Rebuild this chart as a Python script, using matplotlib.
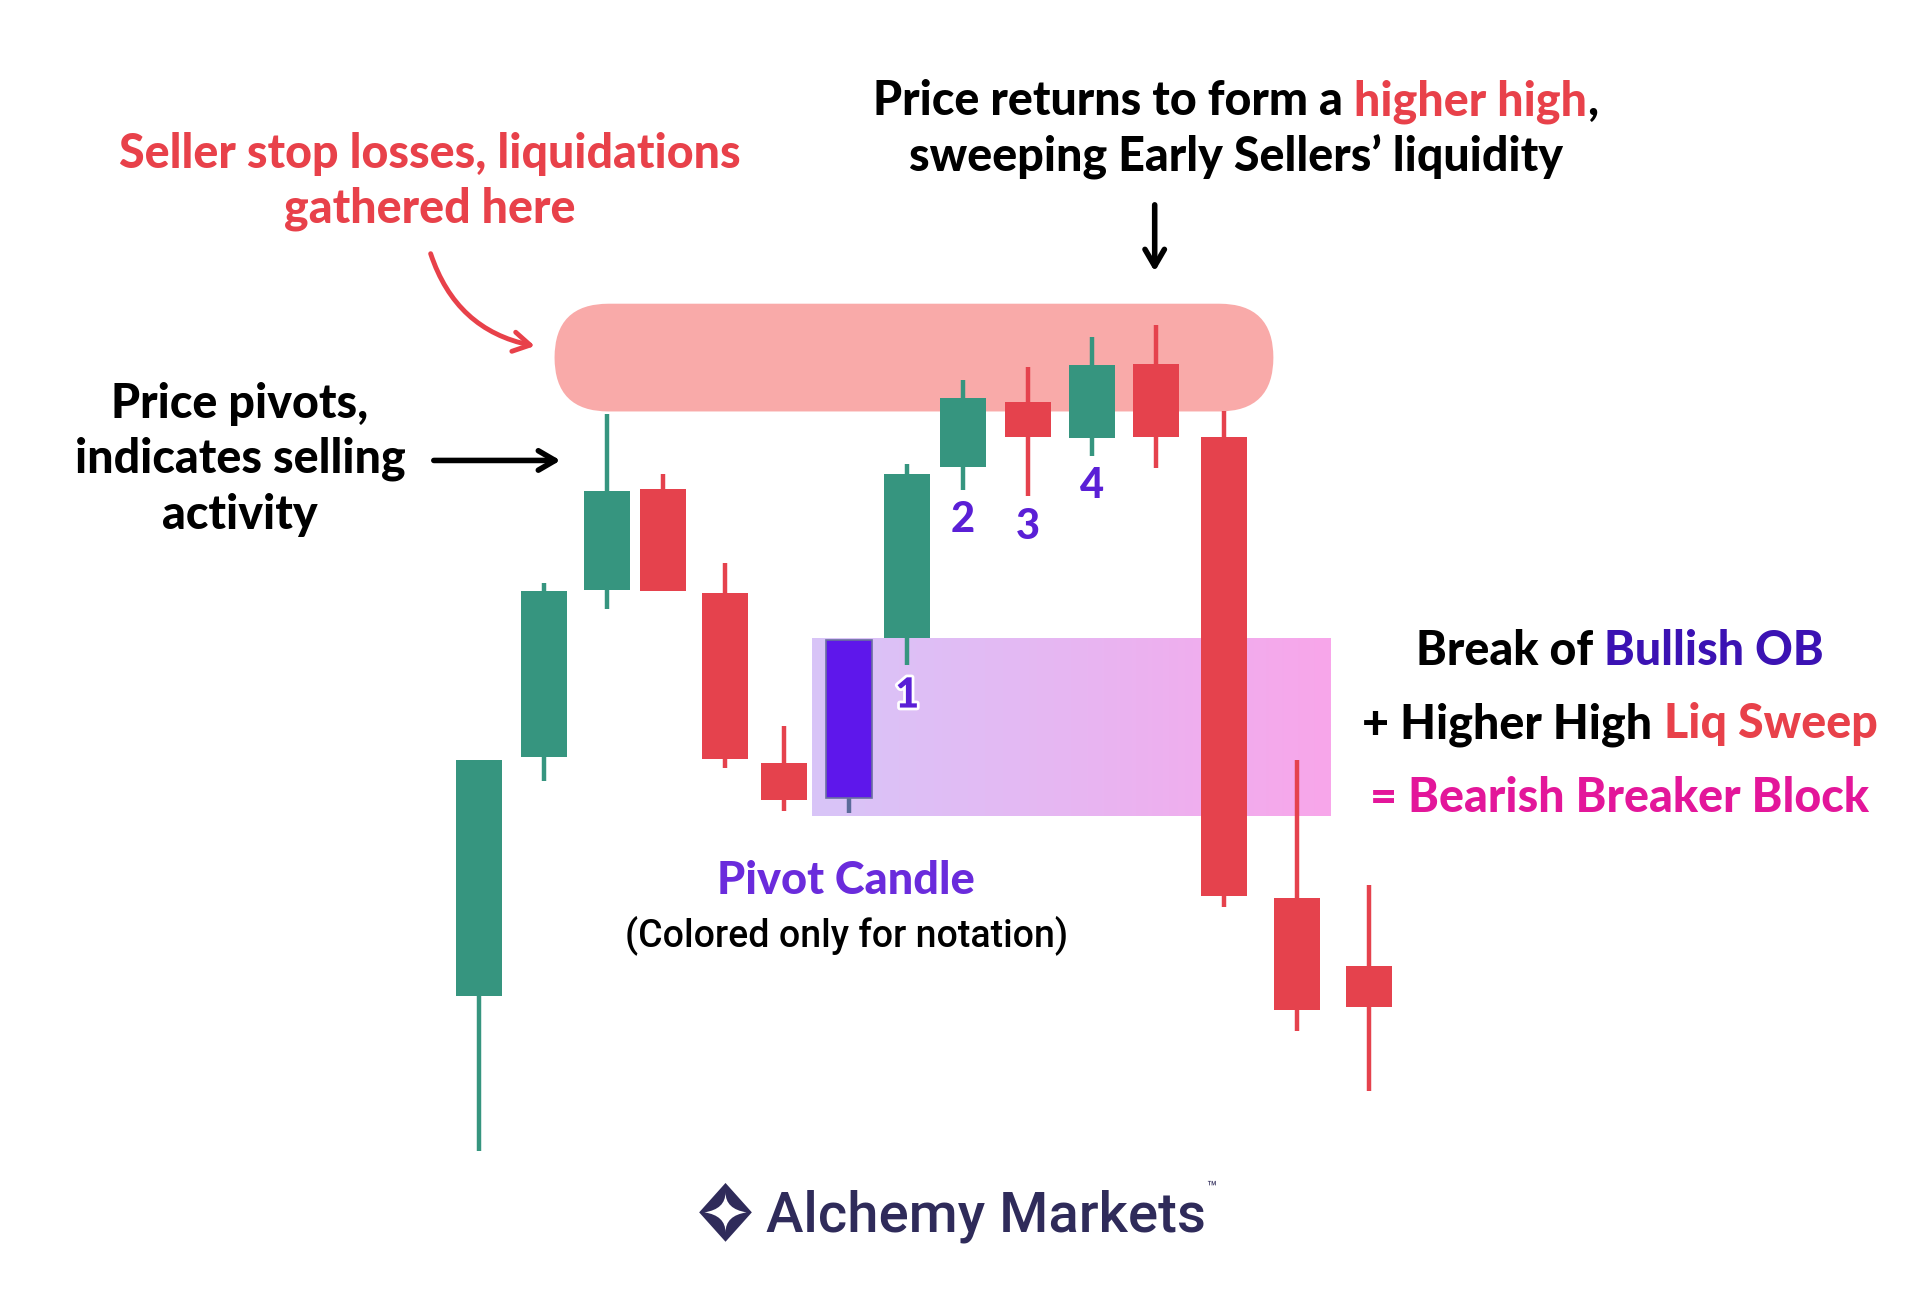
import numpy as np
import matplotlib
matplotlib.use('Agg')
import matplotlib.pyplot as plt
from matplotlib.patches import FancyBboxPatch, PathPatch, FancyArrowPatch
from matplotlib.path import Path
from matplotlib.colors import LinearSegmentedColormap
import matplotlib.patheffects as pe

# candle data (time slot, OHLC)
t      = [0.00, 1.02, 2.02, 2.90, 3.87, 4.79, 5.81, 6.73, 7.60, 8.62, 9.63, 10.63, 11.71, 12.85, 13.98]
opens  = [26.0, 45.5, 59.1, 67.4, 58.9, 45.0, 42.1, 55.2, 69.2, 74.5, 71.5, 77.6, 71.6, 34.0, 28.4]
highs  = [45.2, 59.7, 73.5, 68.6, 61.3, 48.0, 55.0, 69.4, 76.3, 77.3, 79.8, 80.8, 73.7, 45.2, 35.0]
lows   = [13.3, 43.5, 57.6, 59.0, 44.6, 41.1, 40.9, 53.0, 67.3, 66.8, 70.1, 69.1, 33.2, 23.1, 18.2]
closes = [45.2, 59.0, 67.2, 59.0, 45.3, 42.0, 55.0, 68.6, 74.8, 71.6, 77.5, 71.6, 34.1, 24.8, 25.1]

pivot_idx = 6
num_labels = {7: '1', 8: '2', 9: '3', 10: '4'}

# zones
liq_zone = (1.19, 12.48, 73.7, 82.5)   # t0, t1, low, high
ob_zone  = (5.23, 13.37, 40.7, 55.2)

GREEN = '#36957f'
RED = '#e5424d'
PIVOT = '#5e17eb'
TXT_RED = '#e8414a'
NUM_PURPLE = '#5a1fd6'
HEAD = 'black'   # heaviest weight available

fig = plt.figure(figsize=(19.2, 13.14), dpi=100)
ax = fig.add_axes([0, 0, 1, 1])
ax.set_xlim(-7.519, 22.635)
ax.set_ylim(0, 107.3)
ax.axis('off')

# liquidity pill
x0, x1, y0, y1 = liq_zone
pill = FancyBboxPatch((x0, y0), x1 - x0, y1 - y0,
                      boxstyle='round,pad=0,rounding_size=0.85', mutation_aspect=5.2,
                      facecolor='#f9aaa9', edgecolor='none', zorder=1)
ax.add_patch(pill)

# order block gradient
x0, x1, y0, y1 = ob_zone
cmap = LinearSegmentedColormap.from_list('ob', ['#d8c5f8', '#e7b6f2', '#f8a6ea'])
grad = np.linspace(0, 1, 256).reshape(1, -1)
ax.imshow(grad, cmap=cmap, extent=[x0, x1, y0, y1], aspect='auto', zorder=1)

# candles
for i in range(len(t)):
    o, h, l, c = opens[i], highs[i], lows[i], closes[i]
    if i == pivot_idx:
        col, wcol = PIVOT, '#5b6b9a'
    else:
        col = GREEN if c > o else RED
        wcol = col
    ax.vlines(t[i], l, h, color=wcol, lw=3.2, zorder=2)
    ax.bar(t[i], abs(c - o), bottom=min(o, c), width=0.72, color=col,
           edgecolor='#6a6fa0' if i == pivot_idx else 'none', lw=1.2, zorder=3)

for i, s in num_labels.items():
    txt = ax.text(t[i], lows[i] - 2.5, s, ha='center', va='center', fontsize=30,
                  fontweight=HEAD, family='Lato', color=NUM_PURPLE, zorder=4)
    if s == '1':
        txt.set_path_effects([pe.withStroke(linewidth=4, foreground='white')])

W, H = 1568.0, 1073.0
renderer = fig.canvas.get_renderer()


def fx(x):
    return x / W


def fy(y):
    return 1 - y / H


def rich(xc, yb, parts, size, family='Lato', weight=HEAD):
    items = []
    for s, c in parts:
        items.append(fig.text(0, fy(yb), s, color=c, fontsize=size, fontweight=weight,
                              family=family, ha='left', va='baseline'))
    widths = [it.get_window_extent(renderer).width for it in items]
    left = fx(xc) * fig.bbox.width - sum(widths) / 2
    for it, w in zip(items, widths):
        it.set_x(left / fig.bbox.width)
        left += w


# annotation texts
rich(351, 137, [('Seller stop losses, liquidations', TXT_RED)], 33.5)
rich(351, 182, [('gathered here', TXT_RED)], 33.5)

rich(1009, 94, [('Price returns to form a ', 'black'), ('higher high', TXT_RED), (',', 'black')], 33.5)
rich(1009, 140, [('sweeping Early Sellers\u2019 liquidity', 'black')], 33.5)

rich(196, 341, [('Price pivots,', 'black')], 33.5)
rich(196, 386, [('indicates selling', 'black')], 33.5)
rich(196, 432, [('activity', 'black')], 33.5)

rich(1323, 543, [('Break of ', 'black'), ('Bullish OB', '#3b12b3')], 33.5)
rich(1323, 603, [('+ Higher High ', 'black'), ('Liq Sweep', TXT_RED)], 33.5)
rich(1323, 663, [('= Bearish Breaker Block', '#e3169a')], 33.5)

rich(691, 730, [('Pivot Candle', '#6a2bdc')], 32.5)
rich(691, 773, [('(Colored only for notation)', 'black')], 27, family='Roboto', weight='medium')

# arrows
fig.patches.append(FancyArrowPatch(
    (fx(943), fy(165)), (fx(943), fy(224)), transform=fig.transFigure,
    arrowstyle='->,head_length=12,head_width=7', mutation_scale=1, lw=4, color='black'))
fig.patches.append(FancyArrowPatch(
    (fx(352), fy(376)), (fx(460), fy(376)), transform=fig.transFigure,
    arrowstyle='->,head_length=12,head_width=7', mutation_scale=1, lw=4, color='black'))
fig.patches.append(FancyArrowPatch(
    (fx(351), fy(205)), (fx(439), fy(283)), transform=fig.transFigure,
    connectionstyle='arc3,rad=0.3',
    arrowstyle='->,head_length=12,head_width=7', mutation_scale=1, lw=3.5, color=TXT_RED))

# logo
NAVY = '#2f2b5a'
rich(805, 1006, [('Alchemy Markets', NAVY)], 40.5, family='Roboto', weight='medium')
fig.text(fx(989), fy(970), '\u2122', fontsize=12, color=NAVY, ha='center', va='center', family='Roboto')
lax = fig.add_axes([fx(571), fy(1014), fx(614) - fx(571), fy(966) - fy(1014)])
lax.set_xlim(-1, 1)
lax.set_ylim(-1.1, 1.1)
lax.axis('off')
diamond = Path([(-1, 0), (0, 1.1), (1, 0), (0, -1.1), (-1, 0)])
lax.add_patch(PathPatch(diamond, facecolor=NAVY, edgecolor='none'))
star = Path([(-0.8, 0), (0, 0.12), (0, 0.75), (0, 0.12), (0.8, 0), (0, -0.12), (0, -0.75), (0, -0.12), (-0.8, 0)],
            [Path.MOVETO, Path.CURVE3, Path.CURVE3, Path.CURVE3, Path.CURVE3, Path.CURVE3, Path.CURVE3, Path.CURVE3, Path.CURVE3])
lax.add_patch(PathPatch(star, facecolor='white', edgecolor='none'))

fig.savefig('out.png', dpi=100, facecolor='white')
